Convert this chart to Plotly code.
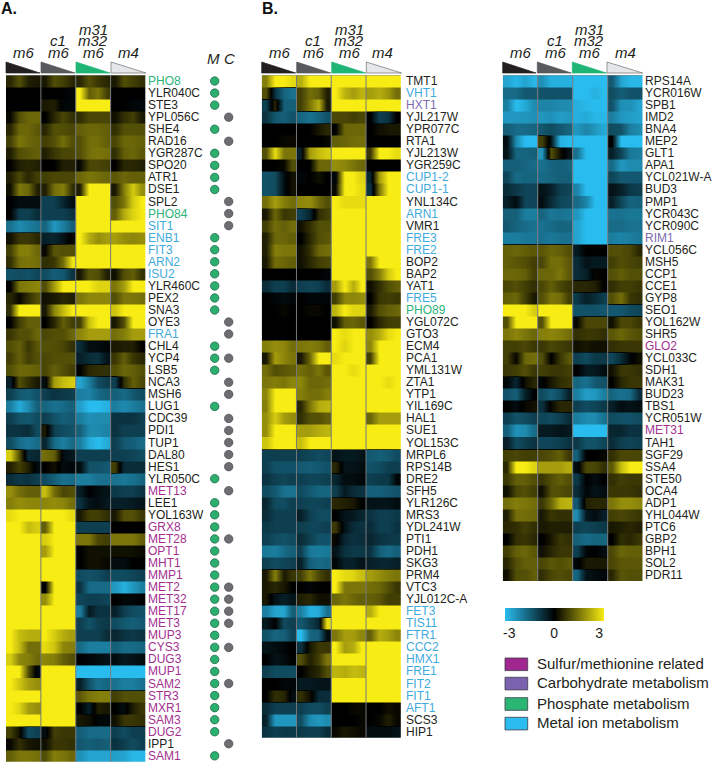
import numpy as np
import plotly.graph_objects as go

W, H = 712, 762

A_GENES = ["PHO8","YLR040C","STE3","YPL056C","SHE4","RAD16","YGR287C","SPO20","ATR1","DSE1","SPL2","PHO84","SIT1","ENB1","FIT3","ARN2","ISU2","YLR460C","PEX2","SNA3","OYE3","FRA1","CHL4","YCP4","LSB5","NCA3","MSH6","LUG1","CDC39","PDI1","TUP1","DAL80","HES1","YLR050C","MET13","LEE1","YOL163W","GRX8","MET28","OPT1","MHT1","MMP1","MET2","MET32","MET17","MET3","MUP3","CYS3","DUG3","MUP1","SAM2","STR3","MXR1","SAM3","DUG2","IPP1","SAM1"]
B_GENES = ["TMT1","VHT1","HXT1","YJL217W","YPR077C","RTA1","YJL213W","YGR259C","CUP1-2","CUP1-1","YNL134C","ARN1","VMR1","FRE3","FRE2","BOP2","BAP2","YAT1","FRE5","PHO89","YGL072C","GTO3","ECM4","PCA1","YML131W","ZTA1","YTP1","YIL169C","HAL1","SUE1","YOL153C","MRPL6","RPS14B","DRE2","SFH5","YLR126C","MRS3","YDL241W","PTI1","PDH1","SKG3","PRM4","VTC3","YJL012C-A","FET3","TIS11","FTR1","CCC2","HMX1","FRE1","FIT2","FIT1","AFT1","SCS3","HIP1"]
C_GENES = ["RPS14A","YCR016W","SPB1","IMD2","BNA4","MEP2","GLT1","APA1","YCL021W-A","BUD3","PMP1","YCR043C","YCR090C","RIM1","YCL056C","MSH5","CCP1","CCE1","GYP8","SEO1","YOL162W","SHR5","GLO2","YCL033C","SDH1","MAK31","BUD23","TBS1","YCR051W","MET31","TAH1","SGF29","SSA4","STE50","OCA4","ADP1","YHL044W","PTC6","GBP2","BPH1","SOL2","PDR11"]

METAL = ["SIT1","ENB1","FIT3","ARN2","ISU2","FRA1","VHT1","CUP1-2","CUP1-1","ARN1","FRE3","FRE2","FRE5","FET3","TIS11","FTR1","CCC2","HMX1","FRE1","FIT2","FIT1","AFT1"]
PHOSPHATE = ["PHO8","PHO84","PHO89"]
SULFUR = ["MET13","GRX8","MET28","OPT1","MHT1","MMP1","MET2","MET32","MET17","MET3","MUP3","CYS3","DUG3","MUP1","SAM2","STR3","MXR1","SAM3","DUG2","SAM1","GLO2","MET31"]
CARB = ["HXT1","RIM1"]

M_GENES = ["PHO8","YLR040C","STE3","SHE4","YGR287C","SPO20","ATR1","DSE1","ENB1","FIT3","ARN2","ISU2","YLR460C","PEX2","SNA3","CHL4","YCP4","LSB5","LUG1","YLR050C","LEE1","YOL163W","GRX8","MET28","OPT1","MHT1","MMP1","MET2","MET32","MET17","MET3","MUP3","CYS3","DUG3","MUP1","SAM2","STR3","MXR1","SAM3","DUG2","SAM1"]
C_DOT_GENES = ["YPL056C","RAD16","SPL2","PHO84","SIT1","OYE3","FRA1","YCP4","NCA3","MSH6","CDC39","PDI1","TUP1","DAL80","HES1","MET13","MET28","MET2","MET32","MET17","MET3","CYS3","SAM2","IPP1"]

A_VALUES = [
[.5,1,.4,.3,.3,1,.8,.5,.5,1,.7,.5,.3,1,.8,.6],
[0,0,0,0,0,0,0,-.1,3,1.2,1.5,.8,0,0,0,0],
[0,0,0,0,.3,.4,-.1,-.1,3,3,3,3,0,0,-.1,-.1],
[.1,1,1.3,1.3,0,.5,.9,.6,.6,.9,.9,.9,.2,.6,.8,.3],
[.5,1.3,1.3,1.1,.5,1,1,.9,1.2,1.3,1.3,1.2,.6,1,1,1],
[.8,1.5,1.3,1.2,.8,1,1.4,1,1,1.4,1.4,1.2,.9,1.3,1.3,1.2],
[.4,1,1.1,1.2,.4,.7,.9,.9,1,1.4,1.5,1.4,.6,1.2,1.3,1.1],
[0,.4,.5,.4,0,0,.4,.4,.1,.9,.9,.8,0,.5,.5,.4],
[.4,.9,.5,.8,.8,.9,.9,.9,1.3,1.5,1.4,1.3,1.1,1.3,1.2,1.2],
[.2,1.5,1.3,.4,.4,1.4,1.6,.6,.4,3,3,3,.3,1.6,2.6,1.8],
[0,-.2,-.2,-.2,-1,-1,-.6,-.2,3,3,3,3,1,1.5,2.6,3],
[0,-1,-1,-.7,-1,-1,-1,-.8,3,3,3,3,1.2,2.2,2.7,3],
[-1.8,-2.2,-2,-1.8,-1.6,-2.4,-2,-1.5,3,3,3,3,3,3,3,3],
[.2,.7,.7,.5,-.5,-.6,-.3,.1,3,2.2,1.8,2,2,1.8,1.7,1.8],
[.8,1.6,1.6,1.3,.1,1.1,1,1,3,3,3,3,3,3,3,3],
[.6,1.4,1.5,1.4,.6,.7,1.4,2.9,3,3,3,3,3,3,3,3],
[-1.3,-1.2,-1.3,-1.1,-1.2,-1.5,-1.4,-.8,.3,1.1,1,.4,.2,1,1.2,.6],
[0,1.5,1.6,1.7,1,2,3,3,3,3,2.7,2.7,1.5,2,3,3],
[.5,.1,.6,1,.2,.3,.5,.4,1.5,1.7,1.7,1.7,1,1.5,1.5,1.4],
[.6,3,3,3,.3,1.7,2.4,3,3,3,3,3,2.5,3,3,3],
[0,.8,1.2,1.2,0,.5,1.2,.8,.8,2.5,3,3,.3,1,3,3],
[.7,1,1,1.3,.9,1,1,1.3,1.7,2,2,2,1.4,1.6,2,2],
[1,1.2,.7,1.1,1,1,.9,.6,-.7,-.2,-.2,-.1,.3,.4,.4,0],
[.8,1.2,.8,1,.9,1,1,1,-.5,-.7,-.8,-.3,.7,1.2,.7,.5],
[1,1.3,1.3,1.2,.9,1.2,1,.8,0,.5,.6,.6,1,1.3,1.2,1],
[-.5,1,.6,.3,-.2,2,2.4,2.6,-2.6,-2,-1.2,-1,-1,.6,1.2,.9],
[-1,-1.4,-1.5,-1.3,-1,-.8,-.9,-1,-2,-2.1,-1.7,-1.5,-1.5,-1.7,-1.4,-1.2],
[-2,-2.7,-2.2,-1.5,-1.6,-1.8,-1.7,-1.5,-2.5,-3,-3,-2.8,-2,-2.2,-2,-1.8],
[-1,-1.3,-1.4,-1.2,-1,-1.3,-1.5,-1.4,-2,-2.3,-2.2,-2.2,-.8,-.8,-.8,-1],
[-.8,-.8,-.7,-1.2,.3,-1,-1.2,-1.3,-1.5,-2.2,-2.2,-2.1,-.8,-1,-1,-1],
[-1.2,-1.7,-1.9,-1.7,-.6,-1.7,-2,-1.7,-2,-2.7,-3,-2.7,-1,-1.4,-1.5,-1.7],
[2.6,1,-.7,-.6,1.4,1.2,-.2,-.4,-1,-1,-1,-1,-1,-1,-1.1,-1.2],
[.4,.8,.4,-.2,0,.2,-.2,-.1,-.2,-1.3,-1.3,-1.4,.8,-.7,-.7,-.7],
[-.7,-.9,-.8,-1,-1.2,-1.5,-1.8,-1.7,-2,-2,-1.8,-1.8,-1.8,-1.9,-1.8,-1.6],
[1.8,1.4,1.2,1.2,2.4,1.4,.9,1,-.5,0,-.2,-.3,-.9,-1,-1,-.8],
[1.6,1.8,1.7,1.7,1.7,1.8,1.7,1.4,-.8,-.3,-.2,-.4,-.5,-.5,-.4,-.3],
[2.8,3,3,3,3,3,3,2.8,.3,.8,.8,.6,.3,1,1,.7],
[3,3,2.4,2.6,1.2,3,3,3,-1,-1,-1,-1,0,0,0,0],
[3,3,3,3,2.6,3,3,3,1.5,1.5,.9,.8,1.5,1.5,1.5,1.2],
[3,3,3,3,2,3,3,3,0,.2,.2,.2,.2,.2,.2,.1],
[3,3,3,3,3,3,3,3,0,.2,.2,.1,-.2,-.2,0,0],
[3,3,3,3,3,3,3,3,-1.2,-1.3,-1.2,-1,-1.2,-1.2,-1.1,-1],
[3,3,3,3,0,3,3,3,-.8,-1.7,-1.7,-1.7,-2.4,-2.8,-2.4,-2],
[3,3,3,3,1.8,3,3,3,-1.1,-1,-1,-1.1,0,-.1,-.1,0],
[3,3,3,3,3,3,3,3,-2,-.4,-.8,-.8,-.5,-1,-1.2,-1.3],
[3,3,3,3,3,3,3,3,-1,-1.3,-1,-.9,-1.2,-1.4,-1.5,-1.4],
[3,2.4,2.2,2.2,3,2.6,2.2,2,-1,-1,-1,-.7,-.6,-.8,-.9,-.8],
[3,2.4,1.4,1.4,2.8,2.5,1.7,1.6,-1.7,-2,-2,-2,-1.5,-1.7,-1.7,-1.6],
[2.6,1.7,1.6,1.3,1.7,1.6,1.2,1,0,-.1,-.2,-.3,-.2,-.4,-.3,-.2],
[3,3,1,-.2,3,3,3,3,-3,-3,-3,-3,-3,-3,-3,-3],
[3,2.5,2,1.8,3,3,3,3,-.5,-1.3,-1.8,-1.6,-1.8,-2,-2,-1.8],
[3,3,3,3,3,3,3,3,1.1,1.5,1.6,1.6,.8,1,1,1],
[3,2.7,2,1.8,3,3,3,3,0,-.5,.4,.3,0,-.2,.4,.7],
[3,3,3,3,3,3,3,3,.3,.2,-.1,-.1,.2,.7,.7,.6],
[.8,.2,-1.2,-1,-.2,.8,.7,.7,-1.5,-1.7,-1.7,-1.7,-1,-1.2,-1,-1],
[.1,.6,.3,.2,.2,.7,.7,.6,-1.4,-1.5,-1.4,-1.5,-.8,-1,-1.2,-1],
[1.2,1.5,1.5,1.4,1,1.6,1.5,1.3,-2.3,-2.6,-2.6,-2.6,-2.5,-2.6,-2.9,-2.9],
]
B_VALUES = [
[1.6,3,3,2.8,2.2,3,3,3,3,3,3,3,3,3,3,3],
[1,-.8,-1.6,-1.8,.8,1.4,1.2,.4,3,2.3,2,2.3,2,2.2,1.9,1.4],
[-1,.5,-1.5,-1.5,.8,1.5,2.2,.3,3,3,3,3,3,3,3,3],
[-.8,-1.4,-1.5,-1.3,-1.6,-1.8,-1.6,-1.3,.9,.9,.8,.9,0,-1,-.8,0],
[0,0,0,0,0,0,.3,.5,0,1.3,1.3,1.3,0,.2,.3,.3],
[0,0,.1,.1,0,0,0,.1,1.2,1.3,1.4,1.4,0,0,0,0],
[1,2.8,1.5,1.5,-.5,2,2.4,2.6,3,3,3,3,.7,3,3,2.8],
[0,0,.1,1,0,0,1.3,1.3,1.8,1.7,1.5,1.3,0,0,0,0],
[-1.3,-1.2,-.2,.2,-.1,0,.2,0,-.1,3,3,2.7,-.6,2,3,3],
[-1.3,-1.2,-.2,.2,0,0,0,0,.1,3,3,2.8,-.8,1.5,3,3],
[1.4,2,1.6,1.4,1.7,1.8,1.3,1,3,2.8,2.8,2.8,3,3,3,3],
[.3,1.3,.7,.8,-1,-.6,.6,.8,3,3,3,3,3,3,3,3],
[.8,1.4,1.2,1.4,.2,.6,1,1,3,3,3,3,3,3,3,3],
[.4,1.3,1.3,1.2,0,.5,1,1.1,3,3,3,3,3,3,3,3],
[.4,1.6,1.5,1.5,.2,.6,1.3,1.4,3,3,3,3,3,3,3,3],
[.3,1.4,1.3,1.2,.2,.5,.8,.9,3,3,3,3,1.5,3,3,3],
[0,0,0,0,0,0,0,-.1,3,3,3,3,1,1.6,2.6,3],
[-.7,-1,-1,-.7,-1,-1.1,-1,-.7,2,3,2.2,3,.2,.6,1,1.2],
[0,-.1,-.2,-.1,0,-.1,-.1,-.1,.8,1.7,1.7,1.8,0,.7,.8,.7],
[0,0,.1,0,0,.1,.1,0,2.3,3,2.7,2.7,.3,1,1.2,1.3],
[0,0,0,0,0,0,0,0,.2,1.2,1.3,1.1,0,.5,.8,.8],
[0,0,0,0,0,0,0,0,3,2.8,3,3,1.8,2.2,2.8,3],
[1.6,1.8,1.7,1.4,1.5,1.6,1.5,1.2,3,2.7,3,3,1.7,3,3,3],
[.3,2,1.7,1.5,.3,1.3,3,3,2.8,3,3,3,.8,3,3,3],
[1.4,1,1.1,1.2,1.4,1.2,1.5,1.1,3,3,2.8,3,3,3,3,3],
[1.5,1.6,1.5,1.7,1.7,1.3,1.3,1.4,3,3,3,3,3,3,2.8,3],
[1.7,3,3,3,1.6,1.4,1.4,1.6,3,3,3,3,3,3,3,3],
[1.6,3,3,3,.5,1.5,2.2,2.3,3,3,3,3,3,3,3,3],
[1.8,2.6,2,1.8,.6,1,1,1.2,3,3,3,3,1.3,2,2,2],
[1.8,3,3,3,2,2,2.2,2.3,3,3,3,3,3,3,3,3],
[2.5,3,3,3,2.4,3,3,3,3,3,3,3,3,3,3,3],
[-1,-1,-1,-1,-1,-1.1,-1.2,-1.1,-.3,-.4,-.4,-.3,-1.4,-1.5,-1.4,-1.2],
[-1,-1.3,-1.3,-1.3,-1.4,-1.5,-1.4,-1.3,.5,-.3,-.3,-.2,-1.3,-1.2,-1,-1],
[-.8,-1,-1.1,-1,-1,-1.1,-1.1,-1,-.6,-.2,-.2,-.1,-1,-.9,-.9,-.1],
[-1.2,-1.4,-1.8,-1.8,-1.2,-1.4,-1.6,-1.6,-1,-.4,-.7,-.8,-1.5,-1.5,-1.4,-1.3],
[-.6,-1.2,-1.2,-1,-1,-1.1,-1.1,-1,.5,.4,.3,0,-.3,-.3,-.3,-.2],
[-.7,-1,-1,-1,-.5,-1,-1.2,-1.2,0,-.3,-.4,-.6,-.8,-1,-1,-.9],
[-.9,-1,-1,-1,-1,-1.1,-1.1,-1,.7,-.3,-.7,-.8,-.7,-1,-1,-.8],
[-1,-1.2,-1.3,-1.2,-.7,-1,-1.3,-1.3,.1,-.6,-.8,-.7,-.6,-.8,-.9,-.9],
[-1.9,-2,-1.7,-1.5,-1,-1.9,-2,-1.9,-.3,-.8,-.9,-.9,-.8,-1.5,-1.7,-1.5],
[-1,-1.2,-1.1,-1,-.5,-1.5,-1.7,-1.6,-.1,-.5,-.5,-.3,-.5,-.6,-.6,-.5],
[.3,1.6,.3,.7,.8,1.5,.9,.6,3,2.8,2.7,2.4,2,1.8,1.6,1.5],
[.3,.5,.3,0,0,-.1,0,0,3,1.5,1.5,1.5,1.4,1.3,1,.7],
[.3,-.3,-.5,-.3,.4,.5,.2,.2,1.3,1.5,1.3,1.2,1.2,1.1,.8,.8],
[-2,-2.6,-2.6,-1.5,-2,-2.8,-2.7,-1.8,3,3,3,3,2.2,3,3,3],
[-.4,0,-1.2,-1,-1.4,-1,-.6,2.8,3,3,3,3,3,3,3,3],
[-1.3,-1.6,-1.5,-1.1,-3,-1.6,-1.5,-.2,1.5,2,2,1.7,1.2,2.2,2,1.7],
[-.3,-.2,-.1,0,-.8,.3,.7,.7,3,2,2.2,3,3,3,3,3],
[0,-.3,-.2,0,1,.4,.8,1.5,3,3,3,3,3,3,3,3],
[-1,-1.2,-1.2,-1.2,0,.3,.5,1,2.3,2.2,2.4,2.3,3,3,3,3],
[0,0,-.1,-.1,-.4,-.4,-.3,-.3,3,3,3,3,3,3,3,3],
[0,.6,.5,-.2,.6,.2,-.7,-.7,3,3,3,3,3,3,3,3],
[-.7,-1,-1,-1,-1,-1.2,-1.2,-1,0,0,.1,.1,0,0,.2,.1],
[-.5,-2.4,-2.4,-2.4,-1.2,-2.2,-2.4,-2.2,0,0,0,.1,0,.1,.4,.1],
[-.8,-1,-.9,-.9,-.9,-1,-1,-.7,.1,.3,.2,.1,-.2,-.2,-.2,-.3],
]
C_VALUES = [
[-2.6,-2.9,-2.6,-2.9,-2.3,-2.8,-2.8,-2.8,-3,-3,-3,-3,-1.4,-2.6,-2.9,-2.9],
[-1.7,-1.7,-1.4,-1.4,-1.3,-1.3,-1.3,-1.3,-3,-3,-2.8,-3,-1.2,-1.5,-1.3,-1.3],
[-2,-3,-2.7,-2.2,-2.1,-2.1,-2.2,-2.2,-2.8,-2.9,-3,-3,-1.3,-2.3,-2.3,-2.6],
[-2.4,-2.4,-2.4,-2.3,-2.4,-2.3,-2.5,-2.4,-2.8,-2.7,-2.9,-2.9,-2,-2.4,-2.5,-2.6],
[-1.5,-1.7,-1.7,-1.6,-1.4,-1.2,-1.4,-1.6,-2.4,-2.1,-2.4,-2.7,-1.2,-1.3,-2,-2.2],
[-.2,-2.2,-3,-3,.8,-.3,-2.8,-3,-3,-3,-3,-3,0,-3,-3,-3],
[-.3,-1.6,-1.6,-1.5,-2.4,1,.2,-.3,-1.8,-3,-3,-3,-.5,-1.1,-1.9,-2],
[-1.5,-1.5,-1.6,-1.7,-1.8,-1.6,-1.5,-1.6,-3,-3,-3,-3,-1.7,-2.4,-2.2,-2.2],
[-1.1,-1.7,-1.6,-1.6,-1.7,-1.6,-1.5,-1.5,-3,-3,-3,-3,-1.1,-1.4,-1.4,-1.4],
[-.7,-.9,-1.1,-1.1,-.3,-.5,-1,-1.1,-2.1,-3,-3,-3,-.3,-.5,-.9,-1],
[-.5,-.2,-1.1,-1.1,-.2,-.7,-1.1,-1.2,-1.7,-2.1,-3,-3,-.5,-1.1,-1.6,-1.5],
[-1.5,-1.5,-2,-2,-1.6,-1.9,-1.8,-1.9,-2.4,-3,-3,-3,-1.8,-1.8,-1.9,-1.9],
[-1.4,-1.6,-1.7,-1.8,-1.8,-1.7,-1.6,-1.6,-2.6,-3,-3,-3,-1.7,-1.7,-1.8,-1.8],
[-2,-2,-1.9,-1.9,-1.8,-1.9,-1.8,-1.8,-2.6,-3,-3,-3,-2,-2.1,-2,-1.9],
[1.2,1.3,1.2,1.1,1.1,1.3,1.2,1,-.4,0,0,0,1,1,.9,.5],
[1.2,1.1,1,.8,.9,1.4,1.4,1.1,-.7,-.3,-.4,-.4,.8,1,.9,.8],
[1.3,1.3,1.2,.8,1.3,1.3,1.5,1.1,-.7,-.5,.1,0,1,1.2,1,1],
[.9,1,.8,.6,.9,1.2,.9,.7,.5,.5,.4,0,.6,.8,.8,.7],
[1.2,1.3,.8,.3,1,1.5,1.4,.8,-.9,-.5,-.7,-1,1,1.4,.7,.6],
[3,3,3,2.6,3,3,3,3,-1.3,-1.3,-1.3,-1.4,-1.4,-1.4,-1.2,-1.1],
[1,3,3,3,1,3,3,3,.1,.9,.9,.9,.2,.9,.9,.7],
[1.5,1.7,1.5,1.3,1.6,1.7,1.6,1.4,.6,.7,.7,.6,1.1,1.3,1.1,1],
[.8,.8,.9,.7,.7,.9,.8,.7,.2,.3,.2,.2,.6,.7,.7,.7],
[.8,.1,1.3,1.4,1,0,.7,1.1,-1,-1.2,-.9,-.9,-1.1,-.7,-.1,.2],
[.7,.8,1,.7,.8,.7,.7,.8,0,-.4,-.4,-.2,.2,.7,.7,.6],
[-.1,-.6,.2,.5,-.1,.3,.6,.7,-1.6,-1.8,-1.4,-1.3,0,.5,.7,.7],
[-1.3,-1.5,-.5,0,-1.2,-1.5,-1.2,-.5,-2,-2.5,-2.4,-2,-1.6,-1.8,-1.7,-.7],
[0,-.2,.1,.2,-.8,.1,.5,.5,-1,-1.2,-1.1,-.9,-.5,-.2,-.3,-.2],
[-1,-1.3,-1.2,-1,-1.1,-1.2,-1,-.7,-2,-2.2,-2.2,-1.8,-1.2,-1.3,-1.3,-1.2],
[-1.5,-2.3,-2.2,-1.7,-.4,-.4,-.3,-.4,-3,-3,-3,-3,-.6,-.6,-.8,-.8],
[-.5,-1.2,-1,-.8,-1.1,-1.1,-1,-.8,-.9,-1.3,-1.3,-1.1,-.7,-1,-1.1,-1],
[.8,.9,.8,.8,.9,1,1.2,.7,-1.5,0,0,.1,.6,.9,.9,.9],
[.5,3,3,2.7,2,2,2,2.2,-.2,.9,.9,.6,1.1,2.4,3,3],
[.7,1.2,1.2,1,.7,1,1.2,1,-.9,0,-.2,0,.6,.8,.7,.7],
[.2,.9,1,.8,.2,1,1,.9,-.7,-.1,-.3,-.2,.7,.7,.7,.6],
[1.4,1.6,1.5,1.4,.7,1.3,2.2,2.3,-1.4,.4,.5,.5,1.5,1.8,1.8,1.7],
[.4,1.4,1.4,1.3,.3,.7,.6,.6,-2.2,-.4,-.2,-.5,.8,.9,.8,.7],
[.5,.6,.8,.6,.3,.4,.4,.4,-1,-1.1,-1,-.9,.3,.4,.5,.4],
[0,.6,.7,.5,0,.3,.7,.6,-1.5,-1.7,-1.6,-1.6,0,.6,.5,.7],
[.8,1.2,1.3,1.1,.2,.5,.7,.7,-1,-.1,0,-.2,.9,1.3,1.2,1.2],
[.5,1,1.2,1.2,.9,1.1,1,1.1,-.1,.3,.3,.3,.9,1.1,1.1,1.1],
[.2,1,1,1.2,.6,.9,1,.9,-1.6,-.3,-.2,-.1,.5,1.1,1,1],
]

GROUP_HEADERS = [["m6"], ["c1", "m6"], ["m31", "m32", "m6"], ["m4"]]
COLORBAR_TICKS = ["-3", "0", "3"]
LEGEND_ITEMS = [("Sulfur/methionine related", "#A0278F"), ("Carbohydrate metabolism", "#7B62AE"),
                ("Phosphate metabolism", "#2BB673"), ("Metal ion metabolism", "#2BBDEF")]

COLORSCALE = [[0, "#29BDEF"], [0.5, "#000000"], [1, "#F7EC13"]]
TEXT = "#231F20"
LABEL_COL = {}
for g in METAL: LABEL_COL[g] = "#3FAADC"
for g in PHOSPHATE: LABEL_COL[g] = "#2DB37A"
for g in SULFUR: LABEL_COL[g] = "#A3308F"
for g in CARB: LABEL_COL[g] = "#7C6BB0"

def fx(px): return px / W
def fy(px): return 1 - px / H

ROW_H = 12.05
PANELS = [
    dict(genes=A_GENES, vals=A_VALUES, x0=6.0, x1=145.5, tri=[(6, 40), (41, 75), (76, 110), (111, 146)], hx=[23, 58, 93, 128], lx=146),
    dict(genes=B_GENES, vals=B_VALUES, x0=261.7, x1=400.8, tri=[(261.7, 295.7), (296.7, 330.7), (331.7, 365.7), (366.3, 401.7)], hx=[279, 313, 349, 383], lx=404),
    dict(genes=C_GENES, vals=C_VALUES, x0=502.7, x1=642.7, tri=[(502.7, 536), (537.3, 571.3), (572.3, 606.3), (607, 642.7)], hx=[520, 555, 589, 625], lx=643.3),
]
TRI_FILL = ["#231F20", "#58595B", "#1FB575", "#E6E7E8"]
TOP = 75.0

fig = go.Figure()
shapes, annos = [], []
layout = {}
first = True
for p_i, p in enumerate(PANELS):
    suffix = "" if p_i == 0 else str(p_i + 1)
    genes, vals = p["genes"], np.array(p["vals"], dtype=float)
    n = len(genes)
    bottom = TOP + n * ROW_H
    # three sub-bands per row so that the browser smooths only along x
    edges = []
    for i in range(n):
        edges += [i - 0.5, i - 0.42, i + 0.42]
    edges.append(n - 0.5)
    edges = np.round(edges, 3).tolist()
    z_rows = np.repeat(vals, 3, axis=0)
    for g in range(4):
        tr = dict(
            x=list(range(g * 4, g * 4 + 4)), y=edges, z=z_rows[:, g * 4:g * 4 + 4].tolist(),
            zmin=-3, zmax=3, colorscale=COLORSCALE, zsmooth="best", hoverinfo="skip",
            xaxis="x" + suffix, yaxis="y" + suffix, showscale=False)
        if first:
            tr["showscale"] = True
            tr["colorbar"] = dict(orientation="h", x=fx(504.7), xanchor="left", y=fy(608), yanchor="top",
                                  thickness=13, thicknessmode="pixels", len=99.3, lenmode="pixels",
                                  outlinewidth=0, xpad=0, ypad=0, ticks="", tickvals=[-2.72, 0, 2.72],
                                  ticktext=COLORBAR_TICKS, tickfont=dict(family="Liberation Sans", size=14, color=TEXT))
            first = False
        fig.add_trace(go.Heatmap(**tr))
    layout["xaxis" + suffix] = dict(domain=[fx(p["x0"]), fx(p["x1"])], range=[-0.5, 15.5], visible=False,
                                    anchor="y" + suffix, fixedrange=True)
    layout["yaxis" + suffix] = dict(domain=[fy(bottom), fy(TOP)], range=[n - 0.5, -0.5], anchor="x" + suffix,
                                    visible=False, fixedrange=True)
    for i, gene in enumerate(genes):
        annos.append(dict(xref="paper", yref="y" + suffix, x=fx(p["lx"]), y=i, text=gene, showarrow=False,
                          xanchor="left", yanchor="middle",
                          font=dict(family="Liberation Sans", size=12, color=LABEL_COL.get(gene, TEXT))))
    for b in [3.5, 7.5, 11.5]:
        shapes.append(dict(type="line", xref="x" + suffix, yref="y" + suffix, x0=b, x1=b, y0=-0.5, y1=n - 0.5,
                           line=dict(color="#76797C", width=1)))
    shapes.append(dict(type="line", xref="x" + suffix, yref="y" + suffix, x0=-0.5, x1=15.5, y0=-0.5, y1=-0.5,
                       line=dict(color="#8A8C8E", width=1)))
    for g, (a, b) in enumerate(p["tri"]):
        path = "M %f %f L %f %f L %f %f Z" % (fx(a), fy(62), fx(b), fy(73), fx(a), fy(73))
        shapes.append(dict(type="path", xref="paper", yref="paper", path=path, fillcolor=TRI_FILL[g],
                           line=dict(color="#6D6E71" if g == 3 else TRI_FILL[g], width=0.7)))
        lines = GROUP_HEADERS[g]
        for k, word in enumerate(lines):
            yy = 53 - 12 * (len(lines) - 1 - k)
            annos.append(dict(xref="paper", yref="paper", x=fx(p["hx"][g]), y=fy(yy), text="<i>%s</i>" % word,
                              showarrow=False, xanchor="center", yanchor="middle",
                              font=dict(family="Liberation Sans", size=15, color=TEXT)))

# Membership dots next to panel A
layout["xaxis4"] = dict(domain=[fx(207.7), fx(235.7)], range=[-0.5, 1.5], visible=False, anchor="y", fixedrange=True)
fig.add_trace(go.Scatter(x=[0] * len(M_GENES), y=[A_GENES.index(g) for g in M_GENES], mode="markers", xaxis="x4", yaxis="y",
                         marker=dict(size=8.5, color="#2BAF6F", line=dict(color="#1D5C41", width=0.7)), hoverinfo="skip", showlegend=False))
fig.add_trace(go.Scatter(x=[1] * len(C_DOT_GENES), y=[A_GENES.index(g) for g in C_DOT_GENES], mode="markers", xaxis="x4", yaxis="y",
                         marker=dict(size=8.5, color="#6D6E71", line=dict(color="#4A4A4C", width=0.7)), hoverinfo="skip", showlegend=False))
for name, xp in [("M", 213), ("C", 229)]:
    annos.append(dict(xref="paper", yref="paper", x=fx(xp), y=fy(58), text="<i>%s</i>" % name, showarrow=False,
                      xanchor="center", yanchor="middle", font=dict(family="Liberation Sans", size=15, color=TEXT)))

for name, xp in [("A.", -1), ("B.", 260)]:
    annos.append(dict(xref="paper", yref="paper", x=fx(xp), y=fy(8), text="<b>%s</b>" % name, showarrow=False,
                      xanchor="left", yanchor="middle", font=dict(family="Liberation Sans", size=16, color="#111111")))

for i, (name, col) in enumerate(LEGEND_ITEMS):
    yc = [664.3, 683.6, 704, 723.6][i]
    shapes.append(dict(type="rect", xref="paper", yref="paper", x0=fx(505), x1=fx(527.7), y0=fy(yc - 6.3), y1=fy(yc + 6.3),
                       fillcolor=col, line=dict(color="#3A3A4A", width=0.8)))
    annos.append(dict(xref="paper", yref="paper", x=fx(534.7), y=fy(yc - 0.8), text=name, showarrow=False, xanchor="left",
                      yanchor="middle", font=dict(family="Liberation Sans", size=15, color=TEXT)))

fig.update_layout(width=W, height=H, margin=dict(l=0, r=0, t=0, b=0), paper_bgcolor="white", plot_bgcolor="white",
                  showlegend=False, shapes=shapes, annotations=annos, **layout)
fig.write_html("out.html", post_script="document.body.style.margin='0';", config={"displayModeBar": False})
